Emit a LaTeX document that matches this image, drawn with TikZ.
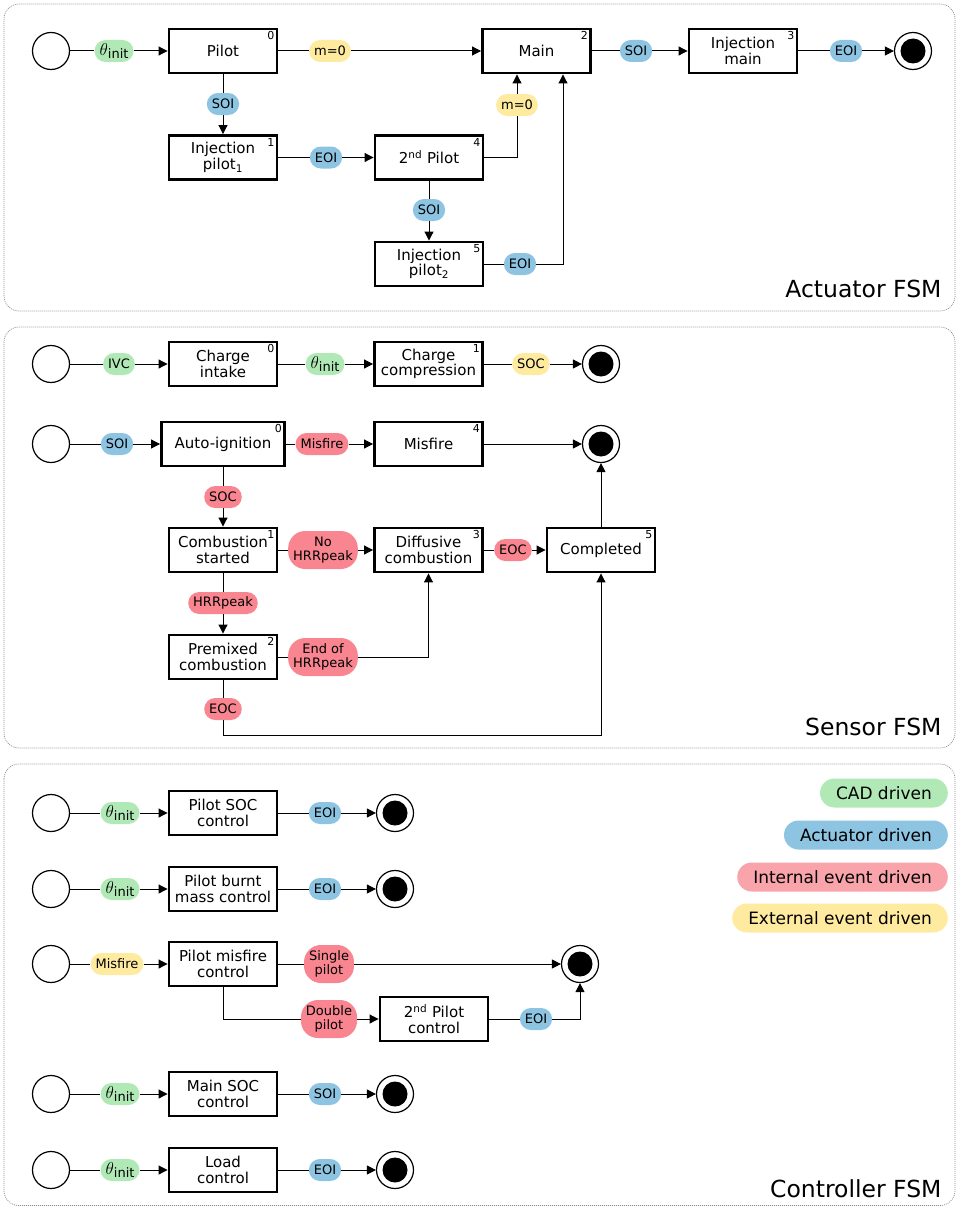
\documentclass[tikz,border=0pt]{standalone}
\usepackage{fontspec}
\setmainfont{DejaVu Sans}
\usetikzlibrary{arrows.meta}
\definecolor{cadgreen}{HTML}{B0E9B6}
\definecolor{actblue}{HTML}{8CC4E2}
\definecolor{intred}{HTML}{F88590}
\definecolor{intredlight}{HTML}{F9A4AB}
\definecolor{extyellow}{HTML}{FFEBA0}
\definecolor{panelgray}{HTML}{8C8C8C}
\newcommand{\thinit}{{\fontsize{17}{17}\selectfont$\theta$}\raisebox{-3pt}{init}}
\begin{document}
\begin{tikzpicture}[x=1pt, y=-1pt,
  fsm/.style={draw, line width=2.9pt, minimum width=108pt, minimum height=44pt, inner sep=1pt, align=center, font=\fontsize{15}{15.5}\selectfont},
  num/.style={label={[anchor=north east, inner sep=3.8pt, font=\fontsize{11}{11}\selectfont]north east:#1}},
  startst/.style={draw, circle, line width=1.2pt, minimum size=37pt, inner sep=0pt},
  endst/.style={startst, path picture={\fill (path picture bounding box.center) circle (12.5pt);}},
  ev/.style={fill=#1, rounded corners=11pt, minimum height=22pt, inner xsep=5pt, inner ysep=2pt, align=center, font=\fontsize{13}{13.5}\selectfont},
  ev2/.style={ev=#1, rounded corners=17pt, minimum height=38pt, inner ysep=3pt},
  arr/.style={-{Triangle[length=9pt,width=9pt]}, line width=1pt},
  panel/.style={draw=panelgray, line width=0.7pt, dash pattern=on 1pt off 1pt, rounded corners=15pt},
  ttl/.style={anchor=base east, font=\fontsize{23.5}{24}\selectfont},
  leg/.style={fill=#1, rounded corners=14.5pt, minimum height=29pt, inner xsep=16pt, anchor=east, font=\fontsize{17}{17}\selectfont}]
\useasboundingbox (0,0) rectangle (956,1207);

\draw[panel] (4,4) rectangle (955,311);
\node[startst] (ai) at (51,51){};
\node[ev=cadgreen] (al0) at (114,51){\thinit};
\node[fsm, num=0] (a0) at (223,51){Pilot};
\node[ev=extyellow] (al1) at (330,51){m=0};
\node[fsm, num=2] (a2) at (536.5,51){Main};
\node[ev=actblue] (al2) at (636,51){SOI};
\node[fsm, num=3] (a3) at (743,51){Injection\\main};
\node[ev=actblue] (al3) at (846,51){EOI};
\node[endst] (af) at (913,51){};
\node[ev=actblue] (al4) at (223,104){SOI};
\node[fsm, num=1] (a1) at (223,157.5){Injection\\pilot\textsubscript{1}};
\node[ev=actblue] (al5) at (326,157.5){EOI};
\node[fsm, num=4] (a4) at (429,157.5){2\textsuperscript{nd} Pilot};
\node[ev=extyellow] (al6) at (517,105){m=0};
\node[ev=actblue] (al7) at (429,210){SOI};
\node[fsm, num=5] (a5) at (429,264){Injection\\pilot\textsubscript{2}};
\node[ev=actblue] (al8) at (520,264){EOI};
\draw[arr] (ai) -- (al0) -- (a0);
\draw[arr] (a0) -- (al1) -- (a2);
\draw[arr] (a2) -- (al2) -- (a3);
\draw[arr] (a3) -- (al3) -- (af);
\draw[arr] (a0) -- (al4) -- (a1);
\draw[arr] (a1) -- (al5) -- (a4);
\draw[arr] (a4) -- (al7) -- (a5);
\draw[arr] (a4.east) -| (al6) -- (al6 |- a2.south);
\draw[arr] (a5) -- (al8) -| ([xshift=26.5pt]a2.south);
\node[ttl] at (945,297){Actuator FSM};

\draw[panel] (4,327) rectangle (955,748);
\node[startst] (si) at (51,364){};
\node[ev=cadgreen] (sl0) at (119,364){IVC};
\node[fsm, num=0] (s0) at (223,364){Charge\\intake};
\node[ev=cadgreen] (sl1) at (325,364){\thinit};
\node[fsm, num=1] (s1) at (428.5,364){Charge\\compression};
\node[ev=extyellow] (sl2) at (531,364){SOC};
\node[endst] (sf) at (601,364){};
\draw[arr] (si) -- (sl0) -- (s0);
\draw[arr] (s0) -- (sl1) -- (s1);
\draw[arr] (s1) -- (sl2) -- (sf);

\node[startst] (ci) at (51,444){};
\node[ev=actblue] (cl0) at (117,444){SOI};
\node[fsm, num=0, minimum width=123pt] (c0) at (223,444){Auto-ignition};
\node[ev=intred] (cl1) at (322,444){Misfire};
\node[fsm, num=4] (c4) at (428.5,444){Misfire};
\node[endst] (cf) at (601,444){};
\node[ev=intred] (cl2) at (223,497){SOC};
\node[fsm, num=1] (c1) at (223,550){Combustion\\started};
\node[ev2=intred] (cl3) at (323,550){No\\HRRpeak};
\node[fsm, num=3] (c3) at (428.5,550){Diffusive\\combustion};
\node[ev=intred] (cl4) at (513,550){EOC};
\node[fsm, num=5] (c5) at (601,550){Completed};
\node[ev=intred] (cl5) at (223,603){HRRpeak};
\node[fsm, num=2] (c2) at (223,657){Premixed\\combustion};
\node[ev2=intred] (cl6) at (323,657){End of\\HRRpeak};
\node[ev=intred] (cl7) at (223,709){EOC};
\coordinate (cc) at (223,735);
\draw[arr] (ci) -- (cl0) -- (c0);
\draw[arr] (c0) -- (cl1) -- (c4);
\draw[arr] (c4) -- (cf);
\draw[arr] (c0) -- (cl2) -- (c1);
\draw[arr] (c1) -- (cl3) -- (c3);
\draw[arr] (c3) -- (cl4) -- (c5);
\draw[arr] (c5) -- (cf);
\draw[arr] (c1) -- (cl5) -- (c2);
\draw[arr] (c2) -- (cl6) -| (c3);
\draw[arr] (c2) -- (cl7) -- (cc) -| (c5);
\node[ttl] at (945,735){Sensor FSM};

\draw[panel] (4,764) rectangle (955,1205.5);
\node[startst] (ki1) at (51,813){};
\node[ev=cadgreen] (kl1) at (120,813){\thinit};
\node[fsm] (k1) at (223,813){Pilot SOC\\control};
\node[ev=actblue] (km1) at (325,813){EOI};
\node[endst] (kf1) at (395,813){};
\draw[arr] (ki1) -- (kl1) -- (k1);
\draw[arr] (k1) -- (km1) -- (kf1);

\node[startst] (ki2) at (51,889){};
\node[ev=cadgreen] (kl2) at (120,889){\thinit};
\node[fsm] (k2) at (223,889){Pilot burnt\\mass control};
\node[ev=actblue] (km2) at (325,889){EOI};
\node[endst] (kf2) at (395,889){};
\draw[arr] (ki2) -- (kl2) -- (k2);
\draw[arr] (k2) -- (km2) -- (kf2);

\node[startst] (ki3) at (51,964){};
\node[ev=extyellow] (kl3) at (117,964){Misfire};
\node[fsm] (k3) at (223,964){Pilot misfire\\control};
\node[ev2=intred] (ks1) at (329,964){Single\\pilot};
\node[endst] (kf3) at (580,964){};
\node[ev2=intred] (ks2) at (329,1019){Double\\pilot};
\node[fsm] (k6) at (434,1019){2\textsuperscript{nd} Pilot\\control};
\node[ev=actblue] (km6) at (536,1019){EOI};
\draw[arr] (ki3) -- (kl3) -- (k3);
\draw[arr] (k3) -- (ks1) -- (kf3);
\draw[arr] (k3) |- (ks2) -- (k6);
\draw[arr] (k6) -- (km6) -| (kf3);

\node[startst] (ki4) at (51,1094){};
\node[ev=cadgreen] (kl4) at (120,1094){\thinit};
\node[fsm] (k4) at (223,1094){Main SOC\\control};
\node[ev=actblue] (km4) at (325,1094){SOI};
\node[endst] (kf4) at (395,1094){};
\draw[arr] (ki4) -- (kl4) -- (k4);
\draw[arr] (k4) -- (km4) -- (kf4);

\node[startst] (ki5) at (51,1170){};
\node[ev=cadgreen] (kl5) at (120,1170){\thinit};
\node[fsm] (k5) at (223,1170){Load\\control};
\node[ev=actblue] (km5) at (325,1170){EOI};
\node[endst] (kf5) at (395,1170){};
\draw[arr] (ki5) -- (kl5) -- (k5);
\draw[arr] (k5) -- (km5) -- (kf5);

\node[leg=cadgreen] (g1) at (948,793){CAD driven};
\node[leg=actblue] (g2) at (948,835){Actuator driven};
\node[leg=intredlight] (g3) at (948,877){Internal event driven};
\node[leg=extyellow] (g4) at (948,918){External event driven};
\node[ttl] at (945,1197){Controller FSM};
\end{tikzpicture}
\end{document}
